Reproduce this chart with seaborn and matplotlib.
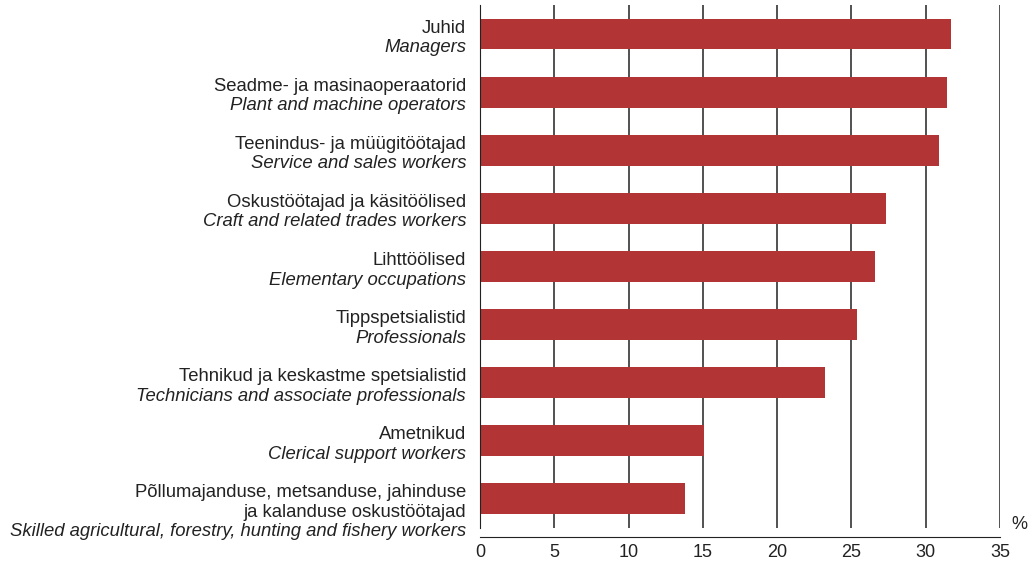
import pandas as pd
import seaborn as sns
import matplotlib.pyplot as plt
from matplotlib.transforms import blended_transform_factory

# Data
labels_et = [
    "Juhid",
    "Seadme- ja masinaoperaatorid",
    "Teenindus- ja müügitöötajad",
    "Oskustöötajad ja käsitöölised",
    "Lihttöölised",
    "Tippspetsialistid",
    "Tehnikud ja keskastme spetsialistid",
    "Ametnikud",
    "Põllumajanduse, metsanduse, jahinduse\nja kalanduse oskustöötajad",
]
labels_en = [
    "Managers",
    "Plant and machine operators",
    "Service and sales workers",
    "Craft and related trades workers",
    "Elementary occupations",
    "Professionals",
    "Technicians and associate professionals",
    "Clerical support workers",
    "Skilled agricultural, forestry, hunting and fishery workers",
]
values = [31.7, 31.4, 30.9, 27.3, 26.6, 25.4, 23.2, 15.1, 13.8]
x_ticks = [0, 5, 10, 15, 20, 25, 30, 35]

df = pd.DataFrame({"cat": labels_en, "value": values})

sns.set_style("white")
plt.rcParams["font.family"] = ["Liberation Sans", "DejaVu Sans"]

fig = plt.figure(figsize=(10.33, 5.66), dpi=100)
ax = fig.add_axes([0.4647, 0.068, 0.5034, 0.923])

sns.barplot(data=df, y="cat", x="value", orient="h", color="#B23434",
            width=0.53, saturation=1, linewidth=0, ax=ax)

ax.set_xlim(0, 35)
ax.set_xticks(x_ticks)
ax.set_xlabel("")
ax.set_ylabel("")
ax.set_yticks([])
ax.grid(axis="x", color="#222222", lw=1.1)
ax.set_axisbelow(True)

for s in ["top", "right"]:
    ax.spines[s].set_visible(False)
ax.spines["left"].set_color("#222222")
ax.spines["bottom"].set_color("#222222")
ax.spines["bottom"].set_position(("outward", 7))
ax.tick_params(axis="x", direction="out", length=4, width=1, color="#222222",
               labelsize=13, pad=1, labelcolor="#222222")

# two-language category labels
trans = blended_transform_factory(ax.transAxes, ax.transData)
for i, (et, en) in enumerate(zip(labels_et, labels_en)):
    lines = [(t, "normal") for t in et.split("\n")] + [(en, "italic")]
    for j, (txt, style) in enumerate(lines):
        ax.annotate(txt, xy=(0, i), xycoords=trans,
                    xytext=(-14, 6 - 19.7 * j), textcoords="offset pixels",
                    ha="right", va="center", fontsize=13.3, style=style,
                    color="#222222", annotation_clip=False)

ax.text(1.037, 0.006, "%", transform=ax.transAxes, ha="center", va="center",
        fontsize=13, color="#222222")

plt.savefig("out.png", dpi=100)
